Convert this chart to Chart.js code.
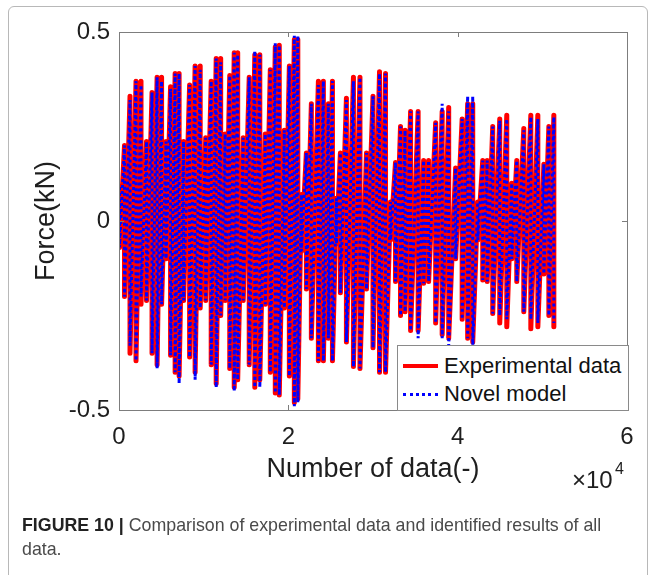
<!DOCTYPE html>
<html>
<head>
<meta charset="utf-8">
<script src="https://cdn.jsdelivr.net/npm/chart.js@4.4.0/dist/chart.umd.min.js"></script>
<style>
  html, body { margin: 0; padding: 0; background: #fff; }
  #fig { position: relative; width: 655px; height: 575px; overflow: hidden; }
  #frame { position: absolute; left: 8px; top: 6px; width: 638px; height: 640px; border: 1px solid #b8b8b8; border-radius: 6px; }
  #plot { position: absolute; left: 0; top: 0; }
  #legend { position: absolute; left: 397px; top: 345px; width: 230px; height: 64px; background: #fff; border: 1px solid #8a8a8a;
            font-family: "Liberation Sans", Arial, sans-serif; font-size: 22px; color: #111; }
  #legend .row { position: absolute; left: 5px; height: 28px; display: flex; align-items: center; }
  #legend .swatch { width: 35px; margin-right: 6px; }
  #caption { position: absolute; left: 22px; top: 513px; width: 612px; font-family: "Liberation Sans", Arial, sans-serif;
             font-size: 17.8px; line-height: 24px; color: #4a4a4a; }
  #caption b { color: #222; }
</style>
</head>
<body>
<div id="fig">
  <div id="frame"></div>
  <canvas id="plot" width="655" height="575"></canvas>
  <div id="legend"></div>
  <div id="caption"><b>FIGURE 10 |</b> Comparison of experimental data and identified results of all data.</div>
</div>
<script>
// sample number of each burst in the record
const spikeAt = [60, 650, 1300, 2010, 2600, 3250, 3900, 4500, 5030, 5560, 6090, 6630, 7100, 7630, 8340, 8990, 9590,
  10240, 10890, 11480, 12010, 12540, 13080, 13610, 14020, 14670, 15380, 16040, 16630, 17280, 17870, 18460, 18930, 19530,
  20120, 20710, 21120, 21540, 22130, 22720, 23550, 24140, 24730, 25210, 25680, 26150, 26860, 27690, 28460, 29230,
  30000, 30770, 31480, 32070, 32660, 33250, 33790, 34440, 35330, 35980, 36570, 37400, 38170, 38940, 39760,
  40530, 41180, 41780, 42370, 42960, 43490, 44140, 44970, 45800, 46390, 46980, 47810, 48640, 49470, 50180, 50770, 51360];

// measured force, peak and trough of each burst (kN)
const expHigh = [0.09, 0.20, 0.33, 0.37, 0.37, 0.21, 0.34, 0.38, 0.38, 0.21, 0.355, 0.39, 0.39, 0.21, 0.36, 0.41, 0.41,
  0.22, 0.37, 0.43, 0.43, 0.23, 0.385, 0.445, 0.445, 0.22, 0.38, 0.44, 0.44, 0.23, 0.40, 0.46, 0.465, 0.24,
  0.41, 0.48, 0.48, 0.07, 0.18, 0.31, 0.37, 0.37, 0.31, 0.37, 0.06, 0.18, 0.325, 0.38, 0.38, 0.18,
  0.33, 0.395, 0.39, 0.05, 0.155, 0.25, 0.24, 0.29, 0.29, 0.16, 0.16, 0.26, 0.29, 0.30, 0.14,
  0.27, 0.31, 0.31, 0.05, 0.16, 0.16, 0.25, 0.27, 0.28, 0.10, 0.16, 0.245, 0.28, 0.28, 0.15, 0.25, 0.28];
const expLow = [-0.07, -0.20, -0.35, -0.37, -0.22, -0.21, -0.35, -0.38, -0.22, -0.10, -0.355, -0.40, -0.41, -0.21, -0.36, -0.40, -0.23,
  -0.21, -0.38, -0.43, -0.25, -0.21, -0.39, -0.44, -0.42, -0.21, -0.38, -0.44, -0.42, -0.22, -0.40, -0.455, -0.46, -0.23,
  -0.41, -0.48, -0.47, -0.08, -0.18, -0.31, -0.37, -0.37, -0.31, -0.37, -0.06, -0.19, -0.32, -0.385, -0.39, -0.18,
  -0.335, -0.40, -0.40, -0.05, -0.16, -0.25, -0.24, -0.29, -0.29, -0.165, -0.16, -0.27, -0.30, -0.31, -0.10,
  -0.26, -0.31, -0.32, -0.05, -0.156, -0.16, -0.245, -0.27, -0.28, -0.10, -0.16, -0.24, -0.285, -0.28, -0.14, -0.25, -0.28];

// identified model output for the same bursts (kN)
const modHigh = [0.09, 0.20, 0.32, 0.37, 0.36, 0.21, 0.34, 0.38, 0.37, 0.21, 0.35, 0.39, 0.39, 0.21, 0.36, 0.41, 0.40,
  0.22, 0.37, 0.43, 0.42, 0.23, 0.385, 0.445, 0.44, 0.22, 0.38, 0.45, 0.44, 0.23, 0.40, 0.47, 0.465, 0.24,
  0.41, 0.49, 0.49, 0.07, 0.18, 0.31, 0.36, 0.37, 0.31, 0.37, 0.06, 0.18, 0.32, 0.37, 0.38, 0.18,
  0.33, 0.39, 0.39, 0.05, 0.155, 0.25, 0.24, 0.29, 0.29, 0.16, 0.16, 0.26, 0.31, 0.29, 0.14,
  0.27, 0.33, 0.33, 0.05, 0.16, 0.16, 0.25, 0.265, 0.27, 0.10, 0.16, 0.24, 0.275, 0.27, 0.15, 0.25, 0.275];
const modLow = [-0.07, -0.20, -0.33, -0.37, -0.20, -0.21, -0.35, -0.39, -0.22, -0.10, -0.355, -0.40, -0.43, -0.21, -0.36, -0.42, -0.23,
  -0.21, -0.38, -0.44, -0.25, -0.21, -0.39, -0.45, -0.42, -0.21, -0.38, -0.44, -0.44, -0.22, -0.40, -0.455, -0.46, -0.23,
  -0.41, -0.49, -0.48, -0.08, -0.18, -0.31, -0.37, -0.37, -0.31, -0.37, -0.06, -0.19, -0.32, -0.385, -0.39, -0.18,
  -0.335, -0.40, -0.40, -0.05, -0.16, -0.25, -0.24, -0.29, -0.31, -0.165, -0.16, -0.27, -0.31, -0.33, -0.10,
  -0.26, -0.31, -0.335, -0.05, -0.156, -0.16, -0.245, -0.25, -0.26, -0.10, -0.16, -0.24, -0.26, -0.27, -0.14, -0.25, -0.27];

const seriesNames = ['Experimental data', 'Novel model'];
const xTicks = [0, 20000, 40000, 60000];
const yTicks = [-0.5, 0, 0.5];

const FONT = '"Liberation Sans", Arial, sans-serif';

// each burst is drawn as a stroke from its peak down to its trough
function burstPoints(high, low) {
  const pts = [];
  spikeAt.forEach((n, i) => {
    pts.push({ x: n, y: high[i] });
    pts.push({ x: n, y: low[i] });
  });
  return pts;
}

// axes box with inward ticks, axis titles and the x10^4 multiplier
const axesDecor = {
  id: 'axesDecor',
  afterDatasetsDraw(chart) {
    const { ctx, chartArea: a, scales: { x, y } } = chart;
    ctx.save();
    ctx.strokeStyle = '#7d7d7d';
    ctx.lineWidth = 1;
    ctx.strokeRect(Math.round(a.left) + 0.5, Math.round(a.top) + 0.5, Math.round(a.right - a.left), Math.round(a.bottom - a.top));
    ctx.beginPath();
    xTicks.forEach(v => {
      const px = Math.round(x.getPixelForValue(v)) + 0.5;
      ctx.moveTo(px, a.bottom); ctx.lineTo(px, a.bottom - 5);
      ctx.moveTo(px, a.top); ctx.lineTo(px, a.top + 5);
    });
    yTicks.forEach(v => {
      const py = Math.round(y.getPixelForValue(v)) + 0.5;
      ctx.moveTo(a.left, py); ctx.lineTo(a.left + 5, py);
      ctx.moveTo(a.right, py); ctx.lineTo(a.right - 5, py);
    });
    ctx.stroke();
    ctx.restore();
  },
  afterDraw(chart) {
    const { ctx, chartArea: a } = chart;
    ctx.save();
    ctx.fillStyle = '#1e1e1e';
    ctx.textBaseline = 'middle';
    ctx.textAlign = 'center';
    ctx.font = '27px ' + FONT;
    ctx.fillText('Number of data(-)', (a.left + a.right) / 2, 470);
    ctx.save();
    ctx.translate(47, (a.top + a.bottom) / 2);
    ctx.rotate(-Math.PI / 2);
    ctx.fillText('Force(kN)', 0, 0);
    ctx.restore();
    ctx.textAlign = 'left';
    ctx.textBaseline = 'alphabetic';
    ctx.font = '24px ' + FONT;
    ctx.fillText('\u00d710', 572, 488);
    ctx.font = '16px ' + FONT;
    ctx.fillText('4', 615, 474);
    ctx.restore();
  }
};

const chart = new Chart(document.getElementById('plot'), {
  type: 'line',
  data: {
    datasets: [
      {
        label: seriesNames[0],
        data: burstPoints(expHigh, expLow),
        borderColor: '#ff0000',
        borderWidth: 5,
        borderCapStyle: 'round',
        borderJoinStyle: 'round',
        pointRadius: 0,
        tension: 0,
        order: 2
      },
      {
        label: seriesNames[1],
        data: burstPoints(modHigh, modLow),
        borderColor: '#0000ff',
        borderWidth: 3,
        borderDash: [3, 3],
        pointRadius: 0,
        tension: 0,
        order: 1
      }
    ]
  },
  options: {
    responsive: false,
    animation: false,
    layout: { padding: { left: 0, right: 28, top: 32, bottom: 0 } },
    plugins: { legend: { display: false }, tooltip: { enabled: false } },
    scales: {
      x: {
        type: 'linear',
        min: 0,
        max: 60000,
        afterBuildTicks: s => { s.ticks = xTicks.map(v => ({ value: v })); },
        afterFit: s => { s.height = 165; },
        grid: { display: false, drawTicks: false },
        border: { display: false },
        ticks: {
          padding: 13,
          maxRotation: 0,
          color: '#1e1e1e',
          font: { family: FONT, size: 24 },
          callback: v => String(v / 10000)
        }
      },
      y: {
        min: -0.5,
        max: 0.5,
        afterBuildTicks: s => { s.ticks = yTicks.map(v => ({ value: v })); },
        afterFit: s => { s.width = 119; },
        grid: { display: false, drawTicks: false },
        border: { display: false },
        ticks: {
          padding: 9,
          color: '#1e1e1e',
          font: { family: FONT, size: 24 },
          callback: v => String(v)
        }
      }
    }
  },
  plugins: [axesDecor]
});

// legend box in the lower right corner of the axes
const legend = document.getElementById('legend');
chart.data.datasets.forEach((ds, i) => {
  const row = document.createElement('div');
  row.className = 'row';
  row.style.top = (6 + i * 28) + 'px';
  const sw = document.createElement('div');
  sw.className = 'swatch';
  sw.style.borderTop = ds.borderDash ? '3px dotted ' + ds.borderColor : '4px solid ' + ds.borderColor;
  const txt = document.createElement('span');
  txt.textContent = ds.label;
  row.appendChild(sw);
  row.appendChild(txt);
  legend.appendChild(row);
});
</script>
</body>
</html>
